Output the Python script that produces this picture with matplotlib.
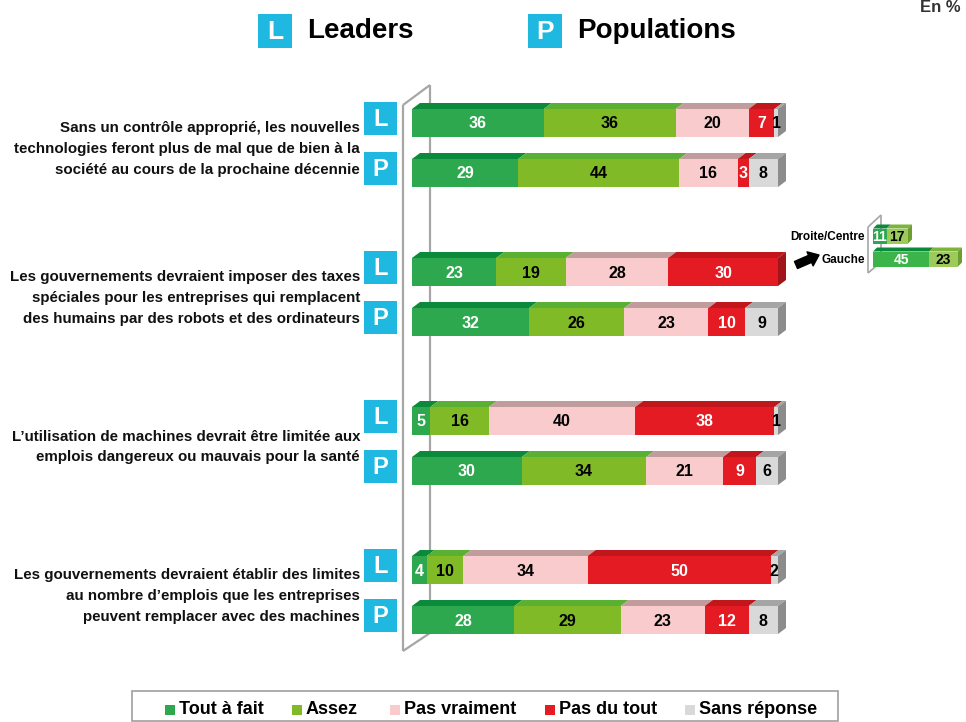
import matplotlib.pyplot as plt
from matplotlib.patches import Polygon, Rectangle

FONT = ['Liberation Sans', 'DejaVu Sans']

categories = ['Tout à fait', 'Assez', 'Pas vraiment', 'Pas du tout', 'Sans réponse']
questions = [
    "Sans un contrôle approprié, les nouvelles\ntechnologies feront plus de mal que de bien à la\nsociété au cours de la prochaine décennie",
    "Les gouvernements devraient imposer des taxes\nspéciales pour les entreprises qui remplacent\ndes humains par des robots et des ordinateurs",
    "L’utilisation de machines devrait être limitée aux\nemplois dangereux ou mauvais pour la santé",
    "Les gouvernements devraient établir des limites\nau nombre d’emplois que les entreprises\npeuvent remplacer avec des machines",
]
leaders = [
    [36, 36, 20, 7, 1],
    [23, 19, 28, 30, 0],
    [5, 16, 40, 38, 1],
    [4, 10, 34, 50, 2],
]
populations = [
    [29, 44, 16, 3, 8],
    [32, 26, 23, 10, 9],
    [30, 34, 21, 9, 6],
    [28, 29, 23, 12, 8],
]
inset_labels = ['Droite/Centre', 'Gauche']
inset_values = [[11, 17], [45, 23]]

front = ['#2EA84F', '#80BA27', '#F9CBCC', '#E41B23', '#D9D9D9']
top = ['#0A8A3A', '#5AB033', '#C09C9C', '#C0161C', '#A5A5A5']
side = ['#0A7A34', '#5E9420', '#B08A8A', '#A0141A', '#8C8C8C']
txtcol = ['white', 'black', 'black', 'white', 'black']
CYAN = '#1FB8E0'

W, H = 966, 722
fig = plt.figure(figsize=(W / 100, H / 100), dpi=100)

# layout axes in pixel units
lay = fig.add_axes([0, 0, 1, 1])
lay.set_xlim(0, W)
lay.set_ylim(H, 0)
lay.axis('off')

# bar axes: x in percent, y in pixels
S = 3.66
X0 = 412
ax = fig.add_axes([0, 0, 1, 1])
ax.set_xlim(-X0 / S, (W - X0) / S)
ax.set_ylim(H, 0)
ax.axis('off')
ax.patch.set_alpha(0)

BH, DY, DXP = 28, 6, 8
DX = DXP / S
Y0, GAP, PAIR = 123, 149, 50


def bar3d(a, y, vals, fcols, tcols, scols, tc, h, dx, dy, fs):
    left = 0
    last = 0
    for i, v in enumerate(vals):
        if v == 0:
            continue
        a.barh(y, v, left=left, height=h, color=fcols[i], edgecolor='none', zorder=3)
        a.add_patch(Polygon([(left, y - h / 2), (left + v, y - h / 2),
                             (left + v + dx, y - h / 2 - dy), (left + dx, y - h / 2 - dy)],
                            closed=True, facecolor=tcols[i], edgecolor='none', zorder=3))
        a.text(left + v / 2, y + 1, str(v), ha='center', va='center', color=tc[i],
               fontsize=fs, fontweight='bold', family=FONT, zorder=5)
        left += v
        last = i
    a.add_patch(Polygon([(left, y - h / 2), (left + dx, y - h / 2 - dy),
                         (left + dx, y + h / 2 - dy), (left, y + h / 2)],
                        closed=True, facecolor=scols[last], edgecolor='none', zorder=3))


# wall
wall = dict(color='#A6A6A6', lw=1.6, solid_capstyle='butt')
lay.plot([430, 430], [85, 633], zorder=1, **wall)
lay.plot([403, 430], [105, 85], zorder=1, **wall)
lay.plot([403, 430], [651, 633], zorder=1, **wall)
lay.plot([403, 403], [105, 651], zorder=1, **wall)


def badge(x, y, s, letter, fs):
    lay.add_patch(Rectangle((x, y), s, s, facecolor=CYAN, edgecolor='none', zorder=2))
    lay.text(x + s / 2, y + s / 2 + 1, letter, ha='center', va='center', color='white',
             fontsize=fs, fontweight='bold', family=FONT, zorder=3)


for g, q in enumerate(questions):
    yl = Y0 + g * GAP
    yp = yl + PAIR
    bar3d(ax, yl, leaders[g], front, top, side, txtcol, BH, DX, DY, 11.5)
    bar3d(ax, yp, populations[g], front, top, side, txtcol, BH, DX, DY, 11.5)
    badge(364, yl - 21, 33, 'L', 17)
    badge(364, yp - 21, 33, 'P', 17)
    lay.text(360, (yl + yp) / 2 + 1, q, ha='right', va='center', fontsize=10.9,
             fontweight='bold', family=FONT, linespacing=1.6, color='#111111')

# header
badge(258, 14, 34, 'L', 19)
lay.text(307, 31, 'Leaders', ha='left', va='center', fontsize=20, fontweight='bold',
         family=FONT)
badge(528, 14, 34, 'P', 19)
lay.text(577, 31, 'Populations', ha='left', va='center', fontsize=20, fontweight='bold',
         family=FONT)
lay.text(920, 8, 'En %', ha='left', va='center', fontsize=12, fontweight='bold',
         family=FONT, color='#333333')

# inset
S2 = 1.25
IX0 = 873
ax2 = fig.add_axes([0, 0, 1, 1])
ax2.set_xlim(-IX0 / S2, (W - IX0) / S2)
ax2.set_ylim(H, 0)
ax2.axis('off')
ax2.patch.set_alpha(0)
thin = dict(wall, lw=1.2)
lay.plot([881, 881], [215, 262], zorder=1, **thin)
lay.plot([868, 881], [227, 215], zorder=1, **thin)
lay.plot([868, 881], [273, 262], zorder=1, **thin)
lay.plot([868, 868], [227, 273], zorder=1, **thin)
in_front = [['#2EA84F', '#9CCB5B'], ['#3BB54A', '#9CCB5B']]
in_top = ['#0A8A3A', '#7DB43A']
in_side = ['#0A7A34', '#6E9E32']
for r, (lab, vals) in enumerate(zip(inset_labels, inset_values)):
    yy = 236 + r * 23
    bar3d(ax2, yy, vals, in_front[r], in_top, in_side, ['white', 'black'], 15, 4 / S2, 4, 10)
    lay.text(865, yy + 1, lab, ha='right', va='center', fontsize=8.5, fontweight='bold',
             family=FONT)
lay.annotate('', xy=(819, 255), xytext=(796, 265),
             arrowprops=dict(arrowstyle='simple,head_width=1.1,head_length=0.7,tail_width=0.55',
                             color='black', shrinkA=0, shrinkB=0))

# legend
lay.add_patch(Rectangle((132, 691), 706, 30, facecolor='none', edgecolor='#A0A0A0', lw=1.2))
leg_x = [165, 292, 390, 545, 685]
for x, c, lab in zip(leg_x, front, categories):
    lay.add_patch(Rectangle((x, 705), 10, 10, facecolor=c, edgecolor='none'))
    lay.text(x + 14, 710, lab, ha='left', va='center', fontsize=13, fontweight='bold',
             family=FONT)

fig.savefig('out.png', dpi=100)
